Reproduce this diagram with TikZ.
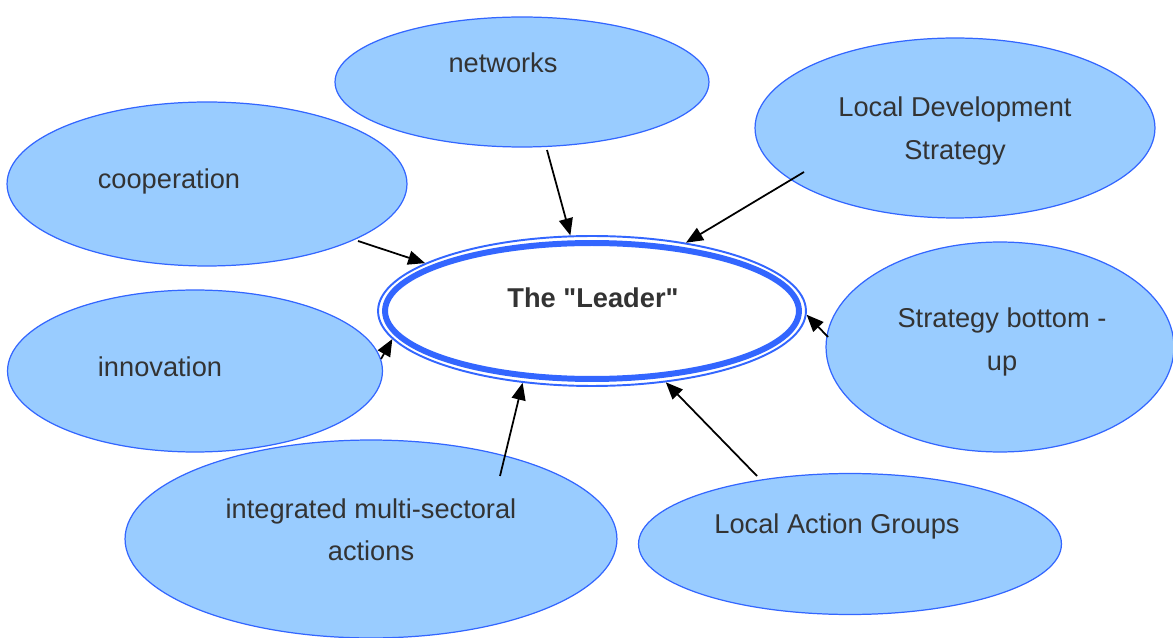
\documentclass[tikz,border=0pt]{standalone}
\usepackage{fontspec}
\setmainfont{Liberation Sans}
\usetikzlibrary{shapes.geometric,arrows.meta,calc}
\definecolor{bubblefill}{HTML}{99CCFF}
\definecolor{bubbleline}{HTML}{3366FF}
\definecolor{textgray}{HTML}{333333}
\tikzset{
  bubble/.style={ellipse,draw=bubbleline,fill=bubblefill,line width=0.7pt,inner sep=0pt},
  words/.style={text=textgray,font=\fontsize{15.5}{24}\selectfont,align=center},
  link/.style={-{Triangle[length=0.34cm,width=0.28cm]},line width=1pt},
}

\begin{document}
\begin{tikzpicture}[x=0.02cm,y=-0.02cm]
        \useasboundingbox (0,0) rectangle (1173,638);
        % outer bubbles
        \node[bubble,minimum width=7.48cm,minimum height=2.6cm] (net) at (522,82) {};
        \node[bubble,minimum width=8cm,minimum height=3.28cm] (coop) at (207,184) {};
        \node[bubble,minimum width=8cm,minimum height=3.6cm] (lds) at (955,128) {};
        \node[bubble,minimum width=6.96cm,minimum height=4.2cm] (sbu) at (1000,347) {};
        \node[bubble,minimum width=7.5cm,minimum height=3.24cm] (inno) at (195,371) {};
        \node[bubble,minimum width=9.84cm,minimum height=3.96cm] (integ) at (371,539) {};
        \node[bubble,minimum width=8.46cm,minimum height=2.82cm] (lag) at (850,544) {};
        \node[words] (netT) at (503,63) {networks};
        \node[words] (coopT) at (169,181) {cooperation};
        \node[words] (ldsT) at (955,131) {Local Development\\Strategy};
        \node[words] (sbuT) at (1002,342) {Strategy bottom -\\up};
        \node[words] (innoT) at (160,367) {innovation};
        \node[words] (integT) at (371,530) {integrated multi-sectoral\\actions};
        \node[words] (lagT) at (837,526) {Local Action Groups};
        % centre
        \node[ellipse,draw=bubbleline,line width=1.1pt,inner sep=0pt,minimum width=8.56cm,minimum height=3cm] (hubring) at (592,311) {};
        \node[ellipse,draw=bubbleline,fill=white,line width=3.4pt,inner sep=0pt,minimum width=8.28cm,minimum height=2.72cm] (hub) at (592,311) {};
        \node[words,font=\fontsize{15.5}{24}\selectfont\bfseries] (hubT) at (593,298) {The \textquotedbl Leader\textquotedbl};
        % arrows
        \draw[link] ($(net)+(25,68)$) -- (hubring.106);
        \draw[link] ($(lds)+(-151,44)$) -- (hubring.36);
        \draw[link] ($(coop)+(151,57)$) -- (hubring.164);
        \draw[link] ($(sbu)+(-172,-10)$) -- (hubring.-1);
        \draw[link] ($(inno)+(186,-12)$) -- (hubring.188);
        \draw[link] ($(integ)+(129,-63)$) -- (hubring.226);
        \draw[link] ($(lag)+(-93,-68)$) -- (hubring.316);
    \end{tikzpicture}
\end{document}
